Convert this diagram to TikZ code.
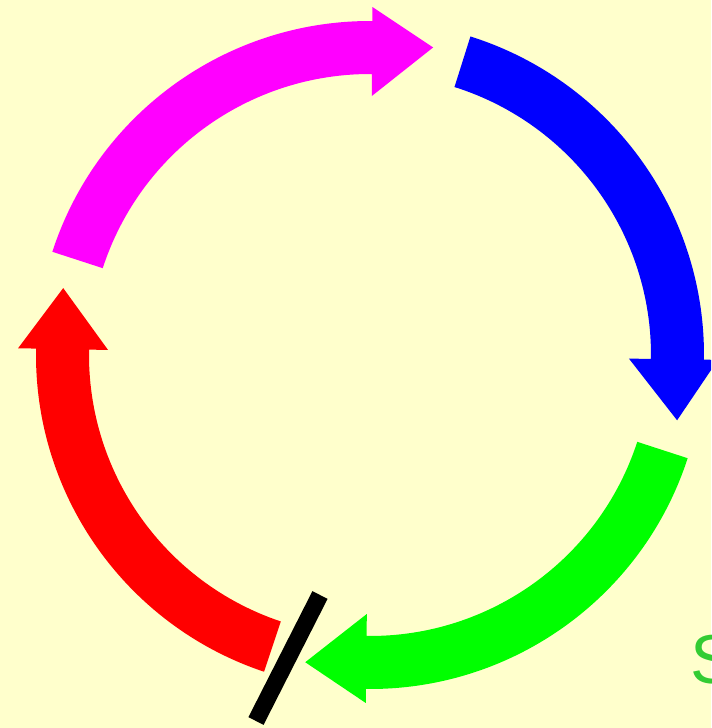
\documentclass[tikz,border=0pt]{standalone}
\usepackage{fontspec}
\setmainfont{Liberation Sans}
\usepackage{xcolor}
\usetikzlibrary{calc}

\definecolor{paper}{RGB}{255,255,204}
\definecolor{labelgreen}{RGB}{51,204,51}
\definecolor{arrowmagenta}{RGB}{255,0,255}
\definecolor{arrowblue}{RGB}{0,0,255}
\definecolor{arrowgreen}{RGB}{0,255,0}
\definecolor{arrowred}{RGB}{255,0,0}

\begin{document}
\begin{tikzpicture}[
    x=0.75pt, y=0.75pt,
    ringarrow/.style={draw=none},
    bar/.style={draw=black, line width=12.75pt}
]

    % Background and frame
    \fill[paper] (-370,-373) rectangle (341,355);
    \clip (-370,-373) rectangle (341,355);

    % Magenta arrow (left to top)
    \fill[ringarrow, arrowmagenta] (162:334) arc[start angle=162, end angle=89.6, radius=334]
        -- (89.6:348) -- ($(89.6:308)+(-0.4:61)$) -- (89.6:259) -- (89.6:281)
        arc[start angle=89.6, end angle=162, radius=281] -- cycle;

    % Blue arrow (top to right)
    \fill[ringarrow, arrowblue] (72.5:334) arc[start angle=72.5, end angle=-0.8, radius=334]
        -- (-0.8:348) -- ($(-0.8:308)+(-90.8:61)$) -- (-0.8:259) -- (-0.8:281)
        arc[start angle=-0.8, end angle=72.5, radius=281] -- cycle;

    % Green arrow (right to bottom)
    \fill[ringarrow, arrowgreen] (-18:334) arc[start angle=-18, end angle=-90.7, radius=334]
        -- (-90.7:348) -- ($(-90.7:308)+(-180.7:61)$) -- (-90.7:259) -- (-90.7:281)
        arc[start angle=-90.7, end angle=-18, radius=281] -- cycle;

    % Red arrow (bottom to left)
    \fill[ringarrow, arrowred] (251.5:334) arc[start angle=251.5, end angle=178.9, radius=334]
        -- (178.9:352) -- ($(178.9:308)+(88.9:61)$) -- (178.9:262) -- (178.9:281)
        arc[start angle=178.9, end angle=251.5, radius=281] -- cycle;

    % Black bar
    \coordinate (barTop) at (-50,-240);
    \coordinate (barBottom) at (-114,-366);
    \draw[bar] (barTop) -- (barBottom);

    % Label
    \node[anchor=base west, inner sep=0pt, text=labelgreen,
          font=\fontsize{52}{60}\selectfont] (label) at (320,-328) {S};

\end{tikzpicture}
\end{document}
